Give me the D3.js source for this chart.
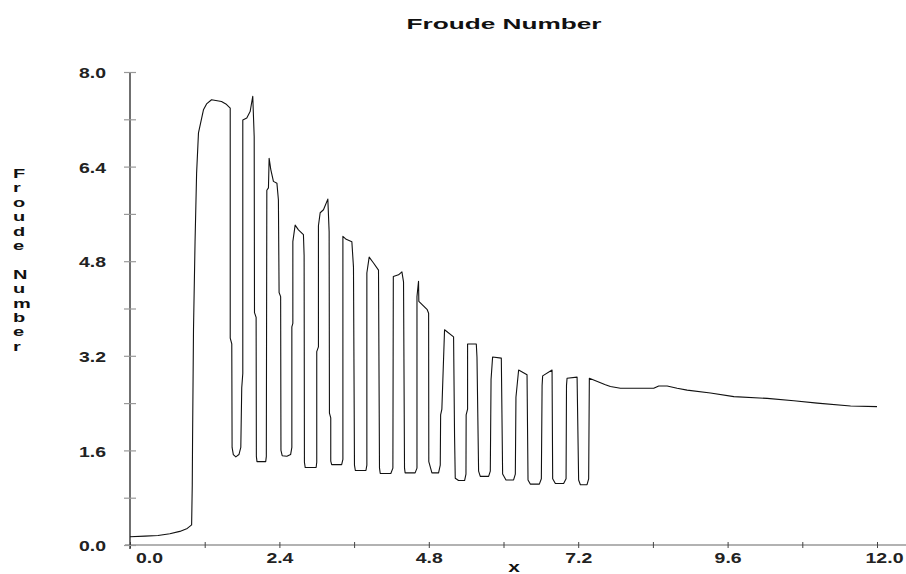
<!DOCTYPE html>
<html>
<head>
<meta charset="utf-8">
<script src="https://cdn.jsdelivr.net/npm/d3@7"></script>
<style>
  body { margin: 0; background: #fff; }
  svg { display: block; font-family: "Liberation Sans", Arial, sans-serif; font-weight: bold; }
</style>
</head>
<body>
<svg width="906" height="574"></svg>
<script>
// x positions along the channel
const xs = [
  0.00, 0.24, 0.45, 0.64, 0.80, 0.92, 0.99, 1.00, 1.005, 1.02, 1.045, 1.07, 1.10, 1.18, 1.23, 1.31, 1.47, 1.54, 1.61,
  1.61, 1.635, 1.64, 1.66, 1.70, 1.75, 1.78, 1.795, 1.812, 1.812,
  1.876, 1.93, 1.972, 1.995, 2.00, 2.026, 2.03, 2.04, 2.18, 2.19,
  2.198, 2.224, 2.235, 2.262, 2.304, 2.36, 2.384, 2.395, 2.42, 2.425, 2.445, 2.52, 2.58, 2.60, 2.60, 2.616,
  2.616, 2.653, 2.706, 2.786, 2.797, 2.802, 2.815, 2.99, 3.00, 3.00, 3.027,
  3.027, 3.055, 3.108, 3.178, 3.199, 3.204, 3.225, 3.225, 3.24, 3.40, 3.42,
  3.42, 3.473, 3.564, 3.59, 3.606, 3.62, 3.79, 3.805,
  3.805, 3.842, 3.912, 3.992, 4.008, 4.02, 4.19, 4.223,
  4.23, 4.314, 4.368, 4.394, 4.41, 4.42, 4.58, 4.61,
  4.61, 4.635, 4.64, 4.775, 4.797, 4.80, 4.85, 4.957, 4.984, 4.99, 5.01,
  5.053, 5.198, 5.214, 5.225, 5.278, 5.375, 5.397, 5.40, 5.423,
  5.423, 5.563, 5.574, 5.60, 5.627, 5.761, 5.788, 5.80,
  5.825, 5.965, 5.986, 6.04, 6.162, 6.19, 6.20,
  6.243, 6.378, 6.394, 6.43, 6.576, 6.608, 6.62,
  6.629, 6.78, 6.79, 6.833, 6.966, 7.005, 7.012,
  7.021, 7.182, 7.207, 7.235, 7.342, 7.368,
  7.379, 7.637, 7.717, 7.878, 8.413, 8.494, 8.629, 8.789, 8.95, 9.325, 9.70, 10.236, 10.664, 11.04, 11.576, 12.00
];

// Froude number at each x
const froude = [
  0.14, 0.15, 0.16, 0.19, 0.23, 0.28, 0.34, 1.00, 1.78, 3.64, 5.13, 6.29, 6.97, 7.36, 7.46, 7.53, 7.50, 7.46, 7.39,
  3.50, 3.40, 1.65, 1.53, 1.49, 1.53, 1.65, 2.66, 2.90, 7.19,
  7.22, 7.33, 7.59, 6.91, 3.93, 3.85, 1.50, 1.41, 1.41, 1.50,
  6.00, 6.04, 6.54, 6.35, 6.15, 6.12, 5.84, 4.27, 4.20, 1.60, 1.51, 1.50, 1.53, 1.65, 3.69, 3.75,
  5.13, 5.41, 5.33, 5.25, 4.90, 1.40, 1.31, 1.31, 1.40, 3.27, 3.35,
  5.40, 5.62, 5.67, 5.85, 5.30, 2.23, 2.15, 1.42, 1.36, 1.36, 1.45,
  5.22, 5.17, 5.13, 4.70, 1.35, 1.26, 1.26, 1.35,
  4.60, 4.87, 4.77, 4.65, 1.30, 1.21, 1.21, 1.30,
  4.54, 4.57, 4.62, 4.45, 1.30, 1.22, 1.22, 1.30,
  4.20, 4.46, 4.12, 3.98, 3.92, 1.41, 1.22, 1.22, 1.35, 2.20, 2.30,
  3.64, 3.52, 1.83, 1.13, 1.09, 1.09, 1.20, 2.20, 2.30,
  3.40, 3.40, 3.18, 1.25, 1.16, 1.16, 1.25, 2.80,
  3.18, 3.16, 1.20, 1.10, 1.10, 1.20, 2.50,
  2.96, 2.88, 1.10, 1.03, 1.03, 1.12, 2.70,
  2.86, 2.96, 1.12, 1.04, 1.04, 1.12, 2.70,
  2.82, 2.84, 1.10, 1.02, 1.02, 1.12,
  2.82, 2.71, 2.68, 2.65, 2.65, 2.69, 2.69, 2.65, 2.62, 2.57, 2.51, 2.48, 2.44, 2.40, 2.35, 2.34
];

const xTickValues = [0, 1.2, 2.4, 3.6, 4.8, 6.0, 7.2, 8.4, 9.6, 10.8, 12.0];
const xLabelValues = [0, 2.4, 4.8, 7.2, 9.6, 12.0];
const yTickValues = [0, 0.8, 1.6, 2.4, 3.2, 4.0, 4.8, 5.6, 6.4, 7.2, 8.0];
const yLabelValues = [0, 1.6, 3.2, 4.8, 6.4, 8.0];

const svg = d3.select('svg');

let x = d3.scaleLinear().domain([0, 12]).range([130, 877]);
let y = d3.scaleLinear().domain([0, 8]).range([545, 72]);

let fmt = d3.format('.1f');
let isLabel = (list, d) => list.some((v) => Math.abs(v - d) < 1e-6);

// x axis
svg.append('line')
  .attr('x1', 125).attr('x2', 906)
  .attr('y1', 545).attr('y2', 545)
  .attr('stroke', '#999').attr('stroke-width', 1.6);

let gx = svg.append('g')
  .attr('transform', 'translate(0,545)')
  .call(d3.axisBottom(x).tickValues(xTickValues).tickSize(6)
    .tickFormat((d) => isLabel(xLabelValues, d) ? fmt(d) : ''));
gx.select('.domain').remove();
gx.selectAll('.tick line').attr('y1', -3).attr('y2', 3).attr('stroke', '#444');
gx.selectAll('.tick text')
  .attr('y', 18).attr('dy', 0)
  .attr('font-size', 14).attr('font-family', null).attr('fill', '#222')
  .attr('dx', (d) => d === 0 ? 19 : d === 12 ? 7 : 0)
  .attr('textLength', (d) => d === 12 ? 38 : 27)
  .attr('lengthAdjust', 'spacingAndGlyphs');

// y axis
svg.append('line')
  .attr('x1', 130).attr('x2', 130)
  .attr('y1', 72).attr('y2', 549)
  .attr('stroke', '#333').attr('stroke-width', 1.4);

let gy = svg.append('g')
  .attr('transform', 'translate(130,0)')
  .call(d3.axisLeft(y).tickValues(yTickValues).tickSize(6)
    .tickFormat((d) => isLabel(yLabelValues, d) ? fmt(d) : ''));
gy.select('.domain').remove();
gy.selectAll('.tick line').attr('x1', -6).attr('x2', 6).attr('stroke', '#999').attr('stroke-width', 1.2);
gy.selectAll('.tick text')
  .attr('x', -24).attr('dy', '0.4em')
  .attr('font-size', 14).attr('font-family', null).attr('fill', '#222')
  .attr('textLength', 27)
  .attr('lengthAdjust', 'spacingAndGlyphs');

// the curve
let line = d3.line()
  .x((d, i) => x(xs[i]))
  .y((d, i) => y(froude[i]));

svg.append('path')
  .datum(froude)
  .attr('d', line)
  .attr('fill', 'none')
  .attr('stroke', '#111')
  .attr('stroke-width', 1.1)
  .attr('stroke-linejoin', 'round');

// title
svg.append('text')
  .attr('x', 504).attr('y', 29)
  .attr('text-anchor', 'middle')
  .attr('font-size', 15)
  .attr('fill', '#111')
  .attr('textLength', 195)
  .attr('lengthAdjust', 'spacingAndGlyphs')
  .text('Froude Number');

// x axis title
svg.append('text')
  .attr('transform', 'translate(514,572) scale(1.4,1)')
  .attr('text-anchor', 'middle')
  .attr('font-size', 15)
  .attr('fill', '#111')
  .text('x');

// y axis title, one letter under the other
let yTitle = 'Froude Number'.split('');
svg.append('g')
  .selectAll('text')
  .data(yTitle)
  .join('text')
  .attr('transform', (d, i) => `translate(13,${178 + i * 14.4}) scale(1.6,1)`)
  .attr('font-size', 12.5)
  .attr('fill', '#111')
  .text((d) => d);
</script>
</body>
</html>
